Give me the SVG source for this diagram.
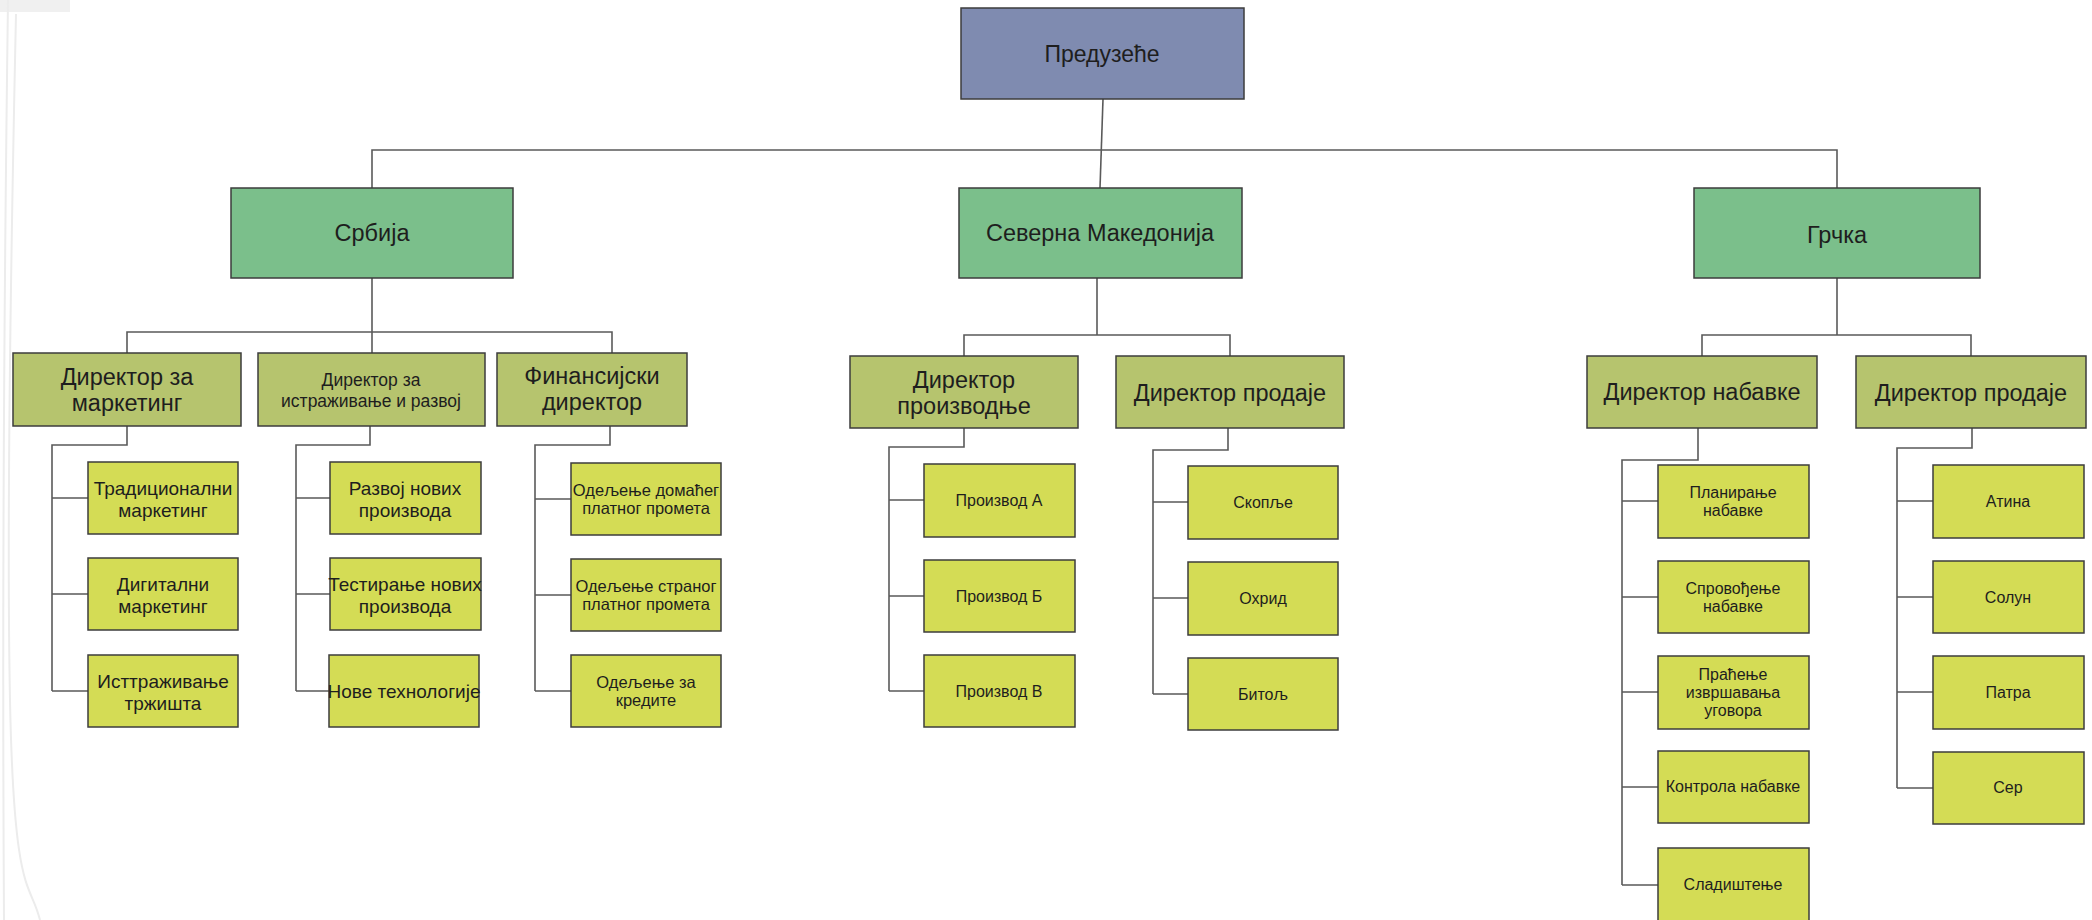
<svg xmlns="http://www.w3.org/2000/svg" width="2092" height="920" viewBox="0 0 2092 920">
<style>
.box{stroke:#3d3d3d;stroke-width:1.5}
.root{fill:#7f8bb0}
.cty{fill:#7bbf8b}
.dir{fill:#b6c46e}
.leaf{fill:#d4dc55}
.con path{fill:none;stroke:#5a5a5a;stroke-width:1.6}
text{font-family:"Liberation Sans",Arial,sans-serif;fill:#1e1e1e;text-anchor:middle}
.f24{font-size:23.5px}.f23{font-size:23px}.f20{font-size:19px}.f18{font-size:17.5px}.f17{font-size:16.5px}.f16{font-size:16px}
.deco{fill:none;stroke:#ececec;stroke-width:2}
</style>
<rect width="2092" height="920" fill="#ffffff"/>
<g id="decor">
<rect x="0" y="0" width="70" height="12" fill="#f0f0f0"/>
<path class="deco" d="M16 14 C 12 200, 6 500, 10 700 S 30 880, 40 920"/>
<path class="deco" d="M8 0 C 4 300, 2 600, 4 920"/>
</g>
<g class="con" id="connectors">
<path d="M1103 99 L1100 188"/>
<path d="M372 188 V150 H1837 V188"/>
<path d="M372 278 V332 M127 353 V332 H612 V353 M372 332 V353"/>
<path d="M127 426 V445 H52 V691 M52 498 H88 M52 594 H88 M52 691 H88"/>
<path d="M370 426 V445 H296 V691 M296 498 H330 M296 594 H330 M296 691 H329"/>
<path d="M610 426 V445 H535 V691 M535 499 H571 M535 595 H571 M535 691 H571"/>
<path d="M1097 278 V335 M964 356 V335 H1230 V356"/>
<path d="M964 428 V447 H889 V691 M889 500 H924 M889 596 H924 M889 691 H924"/>
<path d="M1228 428 V450 H1153 V694 M1153 502 H1188 M1153 598 H1188 M1153 694 H1188"/>
<path d="M1837 278 V335 M1702 356 V335 H1971 V356"/>
<path d="M1698 428 V460 H1622 V885 M1622 501 H1658 M1622 597 H1658 M1622 692 H1658 M1622 787 H1658 M1622 885 H1658"/>
<path d="M1972 428 V448 H1897 V788 M1897 501 H1933 M1897 597 H1933 M1897 692 H1933 M1897 788 H1933"/>
</g>
<g id="n-preduzece"><rect class="box root" x="961" y="8" width="283" height="91"/><text class="f23" x="1102" y="62">Предузеће</text></g>
<g id="n-srbija"><rect class="box cty" x="231" y="188" width="282" height="90"/><text class="f24" x="372" y="241">Србија</text></g>
<g id="n-makedonija"><rect class="box cty" x="959" y="188" width="283" height="90"/><text class="f24" x="1100" y="241">Северна Македонија</text></g>
<g id="n-grcka"><rect class="box cty" x="1694" y="188" width="286" height="90"/><text class="f24" x="1837" y="243">Грчка</text></g>

<g id="n-dir-marketing"><rect class="box dir" x="13" y="353" width="228" height="73"/><text class="f24" x="127" y="385">Директор за</text><text class="f24" x="127" y="411">маркетинг</text></g>
<g id="n-dir-rd"><rect class="box dir" x="258" y="353" width="227" height="73"/><text class="f18" x="371" y="386">Директор за</text><text class="f18" x="371" y="407">истраживање и развој</text></g>
<g id="n-dir-fin"><rect class="box dir" x="497" y="353" width="190" height="73"/><text class="f24" x="592" y="384">Финансијски</text><text class="f24" x="592" y="410">директор</text></g>
<g id="n-dir-proizvodnje"><rect class="box dir" x="850" y="356" width="228" height="72"/><text class="f24" x="964" y="388">Директор</text><text class="f24" x="964" y="414">производње</text></g>
<g id="n-dir-prodaje-mk"><rect class="box dir" x="1116" y="356" width="228" height="72"/><text class="f24" x="1230" y="401">Директор продаје</text></g>
<g id="n-dir-nabavke"><rect class="box dir" x="1587" y="356" width="230" height="72"/><text class="f24" x="1702" y="400">Директор набавке</text></g>
<g id="n-dir-prodaje-gr"><rect class="box dir" x="1856" y="356" width="230" height="72"/><text class="f24" x="1971" y="401">Директор продаје</text></g>

<g id="n-trad"><rect class="box leaf" x="88" y="462" width="150" height="72"/><text class="f20" x="163" y="495">Традиционални</text><text class="f20" x="163" y="517">маркетинг</text></g>
<g id="n-dig"><rect class="box leaf" x="88" y="558" width="150" height="72"/><text class="f20" x="163" y="591">Дигитални</text><text class="f20" x="163" y="613">маркетинг</text></g>
<g id="n-istr"><rect class="box leaf" x="88" y="655" width="150" height="72"/><text class="f20" x="163" y="688">Исттраживање</text><text class="f20" x="163" y="710">тржишта</text></g>

<g id="n-razvoj"><rect class="box leaf" x="330" y="462" width="151" height="72"/><text class="f20" x="405" y="495">Развој нових</text><text class="f20" x="405" y="517">производа</text></g>
<g id="n-test"><rect class="box leaf" x="330" y="558" width="151" height="72"/><text class="f20" x="405" y="591">Тестирање нових</text><text class="f20" x="405" y="613">производа</text></g>
<g id="n-tech"><rect class="box leaf" x="329" y="655" width="150" height="72"/><text class="f20" x="404" y="698">Нове технологије</text></g>

<g id="n-domaci"><rect class="box leaf" x="571" y="463" width="150" height="72"/><text class="f17" x="646" y="496">Одељење домаћег</text><text class="f17" x="646" y="514">платног промета</text></g>
<g id="n-strani"><rect class="box leaf" x="571" y="559" width="150" height="72"/><text class="f17" x="646" y="592">Одељење страног</text><text class="f17" x="646" y="610">платног промета</text></g>
<g id="n-krediti"><rect class="box leaf" x="571" y="655" width="150" height="72"/><text class="f17" x="646" y="688">Одељење за</text><text class="f17" x="646" y="706">кредите</text></g>

<g id="n-proizvod-a"><rect class="box leaf" x="924" y="464" width="151" height="73"/><text class="f16" x="999" y="506">Производ А</text></g>
<g id="n-proizvod-b"><rect class="box leaf" x="924" y="560" width="151" height="72"/><text class="f16" x="999" y="602">Производ Б</text></g>
<g id="n-proizvod-v"><rect class="box leaf" x="924" y="655" width="151" height="72"/><text class="f16" x="999" y="697">Производ В</text></g>

<g id="n-skoplje"><rect class="box leaf" x="1188" y="466" width="150" height="73"/><text class="f16" x="1263" y="508">Скопље</text></g>
<g id="n-ohrid"><rect class="box leaf" x="1188" y="562" width="150" height="73"/><text class="f16" x="1263" y="604">Охрид</text></g>
<g id="n-bitolj"><rect class="box leaf" x="1188" y="658" width="150" height="72"/><text class="f16" x="1263" y="700">Битољ</text></g>

<g id="n-planiranje"><rect class="box leaf" x="1658" y="465" width="151" height="73"/><text class="f16" x="1733" y="498">Планирање</text><text class="f16" x="1733" y="516">набавке</text></g>
<g id="n-sprovodjenje"><rect class="box leaf" x="1658" y="561" width="151" height="72"/><text class="f16" x="1733" y="594">Спровођење</text><text class="f16" x="1733" y="612">набавке</text></g>
<g id="n-pracenje"><rect class="box leaf" x="1658" y="656" width="151" height="73"/><text class="f16" x="1733" y="680">Праћење</text><text class="f16" x="1733" y="698">извршавања</text><text class="f16" x="1733" y="716">уговора</text></g>
<g id="n-kontrola"><rect class="box leaf" x="1658" y="751" width="151" height="72"/><text class="f16" x="1733" y="792">Контрола набавке</text></g>
<g id="n-skladistenje"><rect class="box leaf" x="1658" y="848" width="151" height="74"/><text class="f16" x="1733" y="890">Сладиштење</text></g>

<g id="n-atina"><rect class="box leaf" x="1933" y="465" width="151" height="73"/><text class="f16" x="2008" y="507">Атина</text></g>
<g id="n-solun"><rect class="box leaf" x="1933" y="561" width="151" height="72"/><text class="f16" x="2008" y="603">Солун</text></g>
<g id="n-patra"><rect class="box leaf" x="1933" y="656" width="151" height="73"/><text class="f16" x="2008" y="698">Патра</text></g>
<g id="n-ser"><rect class="box leaf" x="1933" y="752" width="151" height="72"/><text class="f16" x="2008" y="793">Сер</text></g>
</svg>
